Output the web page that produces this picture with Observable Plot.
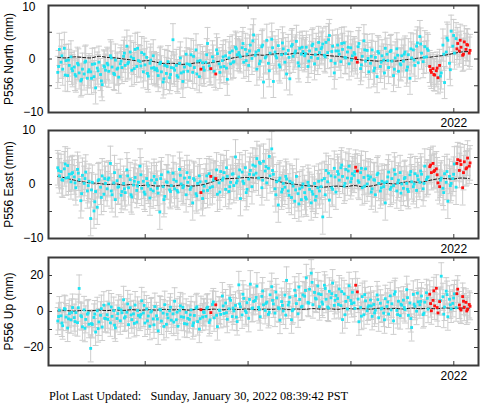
<!DOCTYPE html>
<html><head><meta charset="utf-8">
<script src="https://cdn.jsdelivr.net/npm/d3@7"></script>
<script src="https://cdn.jsdelivr.net/npm/@observablehq/plot@0.6"></script>
<style>
body{margin:0;background:#fff;width:481px;height:404px;overflow:hidden;position:relative}
#chart svg{display:block}
#cap{position:absolute;left:49px;top:389px;font:12.3px "Liberation Serif","Times New Roman",serif;white-space:pre;color:#000}
</style></head><body>
<div id="chart"></div>
<div id="cap">Plot Last Updated:   Sunday, January 30, 2022 08:39:42 PST</div>
<script>
// sampling of the series (decimal years)
const T0 = 2018.15, STEP = 0.016;          // main epochs
const T0B = 2018.158, STEPB = 0.032;       // interleaved epochs
const MODEL_STEP = 0.08;
const X_DOMAIN = [2018.06, 2022.24];
const yearTicks = [2019, 2020, 2021, 2022];
const yearLabels = [2022];

const northValues = [
-2.5,1.8,-0.6,-1.9,2.0,-0.3,-3.1,-1.2,0.4,-2.2,
-1.5,-3.2,-0.8,-2.6,-4.1,-1.9,-2.8,-0.4,-3.6,-2.0,
-2.4,-1.0,-3.3,-5.4,-1.7,-0.6,-2.9,-4.8,-1.3,-2.1,
-0.8,-2.3,0.6,-1.5,-2.7,-0.2,-1.9,-3.4,-0.9,-1.6,
0.5,-1.2,2.4,-0.6,1.3,-2.1,0.1,1.8,-1.4,-0.3,
-0.5,1.2,-2.4,-1.1,0.3,-3.2,-0.8,-1.7,0.6,-2.0,
-1.8,-3.1,-0.9,-2.4,-4.3,-1.2,-2.7,-0.5,-3.5,-1.6,
3.6,-2.1,-1.2,-3.4,-0.8,-2.6,-4.2,-1.5,0.9,-2.3,
-1.0,0.8,-2.5,-1.6,1.7,-0.4,-3.3,-1.9,-0.7,-2.1,
-0.6,2.9,-1.3,-1.8,0.4,-2.3,-2.8,1.0,-0.9,-1.5,
-0.3,-1.4,0.6,-3.8,0.2,-0.9,1.5,-0.5,2.2,0.8,
1.2,0.4,2.1,-0.6,1.8,0.9,-1.2,2.6,0.1,4.5,
0.7,-1.9,1.6,-0.4,2.3,-4.3,0.2,3.5,-0.8,1.1,
3.7,-4.2,1.3,0.2,2.5,-1.5,0.8,1.9,-0.6,-2.8,
1.6,-3.7,2.4,0.5,1.1,3.3,-0.7,2.0,0.9,1.4,
0.6,2.2,-1.4,1.5,0.3,2.8,-0.9,1.8,0.1,1.2,
1.9,2.8,0.7,3.1,1.2,4.4,-0.3,2.4,-2.6,1.5,
2.6,0.9,-0.5,1.8,3.0,0.2,1.3,-0.9,2.1,0.6,
1.2,0.2,-0.6,2.9,-1.8,0.5,3.4,-0.4,1.6,-2.4,
-0.8,1.7,-2.2,0.3,-3.3,1.1,-1.4,0.6,-0.2,2.0,
0.9,-1.6,1.4,-0.4,-3.1,0.2,1.9,-2.3,-0.9,0.6,
-0.4,1.3,-2.1,0.8,-3.6,0.2,1.7,-1.2,2.4,-0.7,
4.2,1.1,-0.5,2.3,0.4,1.6,-1.4,-2.5,-1.8,-3.0,
-2.2,-3.5,-1.2,-2.6,2.6,-4.4,1.3,3.5,-0.8,5.2,
2.4,1.1,3.8,2.9,1.5,2.2,0.7,3.2,1.8,2.6,1.1];
const northValuesB = [
-1.4,0.6,-3.0,-0.2,-1.8, -2.9,-1.1,-3.8,-0.6,-2.4, -3.6,-0.9,-2.2,-4.1,-1.5, -1.1,0.2,-2.9,-1.7,-0.4,
1.1,-0.9,0.4,-1.8,2.0, -1.3,0.9,-2.7,-0.2,-1.6, -2.2,-0.6,-3.7,-1.4,-2.9, -1.7,-3.1,0.2,-2.4,-0.9,
-1.2,0.5,-2.8,-0.3,-1.6, 0.8,-1.9,-0.4,1.7,-2.5, 0.4,-1.7,1.2,-0.6,1.9, 0.7,2.9,-0.3,1.5,3.4,
1.3,-0.9,2.6,0.4,-2.2, 2.1,0.6,-1.1,3.0,1.0, 0.3,2.7,1.5,-1.3,2.2, 1.0,-0.4,2.5,0.8,3.1,
2.2,0.4,3.6,1.4,-0.8, 1.5,2.9,0.3,2.2,-0.2, 0.9,2.3,-1.1,1.7,0.1, 0.5,-1.7,1.4,-0.6,-2.6,
-0.3,1.6,-1.9,0.7,-1.1, 0.9,-1.5,1.9,-0.2,3.0, 2.8,0.3,1.9,-2.1,-2.9, -1.7,-3.2,0.9,3.9,-2.0,
4.4,1.9,3.5,0.9,2.7,1.6];

const eastValues = [
3.1,1.6,2.4,0.8,2.9,1.2,3.5,1.9,0.5,2.2,
1.4,-0.6,2.8,0.9,-3.0,1.7,0.2,2.3,-1.2,0.6,
-6.3,0.4,-4.9,-1.3,-4.2,0.9,-0.5,1.6,-1.8,0.2,
-0.8,1.2,3.9,-1.9,0.3,-2.8,0.7,-0.4,1.5,-1.3,
0.2,-1.5,2.7,-0.6,0.9,-2.3,-0.1,1.3,-1.1,0.4,
3.4,-0.7,0.6,-1.8,1.1,-0.3,-2.5,0.8,-1.2,0.3,
0.9,-1.6,-5.1,1.8,-0.4,-2.2,0.5,2.3,-1.0,-0.2,
2.1,-0.8,0.6,-1.4,2.8,0.1,-0.6,1.2,-1.9,0.4,
1.3,-0.5,-3.4,0.8,-1.7,0.2,1.6,-1.5,-2.6,-0.3,
0.6,-1.1,2.0,1.5,-0.4,1.2,1.1,-1.8,0.3,2.4,
0.8,2.2,-0.9,1.5,-1.3,0.4,1.9,-0.2,5.1,0.7,
1.4,-2.6,2.3,0.2,3.1,-0.9,1.0,2.6,-0.4,1.8,
3.4,4.8,1.2,3.9,-0.6,4.3,2.5,0.3,3.0,1.6,
6.6,1.9,-0.8,0.5,-3.8,1.2,-1.4,0.2,-0.5,1.0,
-1.2,0.6,-2.4,-0.3,-3.1,1.5,-1.7,-0.8,-2.8,0.1,
-1.5,-2.7,0.4,-0.9,-3.4,-1.8,0.2,-2.2,-0.6,-1.2,
-0.4,-6.0,1.1,2.6,0.5,-2.9,1.6,-0.9,3.0,-1.4,
2.4,0.8,3.1,1.5,-0.3,2.8,1.2,3.4,0.5,2.0,
1.7,3.2,2.5,0.4,2.2,-0.6,1.3,2.9,0.1,1.0,
1.4,-0.8,0.9,-1.9,1.8,0.2,-1.2,0.6,-0.4,-3.4,
0.5,2.3,-0.9,1.1,-0.2,1.9,-1.2,0.8,2.2,0.1,
-0.7,1.3,0.2,-1.3,1.8,0.5,-0.4,2.0,-1.1,0.9,
0.4,1.9,-0.8,3.4,0.9,1.4,3.3,2.2,3.9,2.6,
2.9,0.3,-0.4,1.2,-0.7,2.0,0.4,-3.1,1.5,0.2,
1.1,3.8,-0.5,4.6,2.6,3.7,-0.6,4.2,2.9,4.9,3.4];
const eastValuesB = [
2.6,0.9,3.8,1.3,2.0, 0.3,2.1,-1.7,1.1,-0.2, -1.0,-3.2,0.7,-2.4,1.1, 0.9,-1.2,2.2,-0.5,-2.0,
-0.8,1.6,-1.9,0.6,-0.3, 1.8,-1.4,0.2,-0.9,1.5, -0.7,1.1,-2.8,0.4,-1.3, 0.9,-1.1,1.7,-0.3,2.2,
-0.9,1.1,-2.1,0.5,-1.2, 1.6,-0.6,0.8,2.7,-1.4, 1.2,3.1,-0.4,2.0,0.3, 2.7,0.6,-1.5,1.9,3.6,
2.1,4.1,0.8,3.3,5.2, 2.6,-1.9,0.8,-0.9,1.5, -2.0,0.3,-1.0,-3.6,-0.5, -2.4,-0.2,-1.3,-2.9,0.6,
0.8,-1.9,2.1,-0.6,1.4, 1.9,3.6,0.2,2.5,1.1, 2.4,0.7,3.0,-0.3,1.6, -1.4,0.8,2.1,-0.6,0.3,
1.4,-0.5,2.7,0.3,-1.6, 1.1,-0.9,2.4,0.1,1.6, 2.5,0.2,1.3,3.6,2.4, 1.8,0.8,-1.5,2.4,-0.2,
1.9,3.9,4.4,2.2,3.1,4.0];

const upValues = [
-5.3,0.8,-2.4,-7.9,1.6,-3.1,-9.2,-1.2,-4.6,2.2,
-3.4,-0.6,-6.2,12.8,-2.3,-8.5,0.9,-4.4,-1.5,-7.1,
-20.5,-7.2,-3.3,-11.4,0.4,-5.8,-2.1,-8.6,3.5,-4.0,
-1.8,4.2,-6.3,-2.7,0.5,-9.1,-3.9,1.8,-5.2,-0.7,
6.5,-2.9,-0.4,-7.3,2.1,-4.5,-1.3,3.6,-5.9,-2.2,
-3.1,5.9,-0.8,-6.4,1.4,-2.5,-8.2,0.3,-4.1,2.7,
-2.4,-10.8,1.2,-5.3,-0.9,3.8,-7.1,-3.6,0.4,-4.8,
-1.3,5.7,-4.6,-8.2,0.7,-2.9,2.3,-6.7,-0.5,-3.8,
-4.4,0.9,-7.8,-2.2,1.8,-5.6,-9.8,1.0,-3.1,-0.6,
-2.7,2.4,-6.1,-0.6,3.9,-3.5,3.7,-8.4,0.8,-1.6,
8.6,-1.1,4.7,-4.3,1.5,6.2,-2.8,0.3,3.4,-5.6,
14.8,2.6,-1.9,7.3,0.4,4.9,-3.8,15.2,1.7,5.6,
6.1,14.1,2.3,-2.9,8.4,3.7,0.6,5.2,-1.6,9.3,
13.8,4.2,-0.9,7.6,2.1,-4.8,5.5,0.3,9.1,17.3,
3.6,7.9,-4.6,1.2,11.8,4.4,-1.3,6.7,2.5,9.2,
8.5,18.7,5.1,12.4,21.3,3.8,10.6,6.9,14.2,2.7,
9.4,4.1,14.6,6.8,2.5,11.2,7.6,15.8,3.4,8.9,
7.2,12.5,3.3,-4.5,9.8,5.6,1.4,14.3,6.1,10.7,
4.8,14.6,10.9,-5.7,2.2,8.3,-1.8,5.9,0.4,3.2,
6.4,-2.7,3.9,0.7,9.2,-3.5,4.6,1.8,-0.9,7.1,
2.8,-1.4,8.7,4.3,-5.2,11.0,0.6,5.7,-2.3,3.5,
6.3,1.1,12.1,-2.1,4.7,-8.9,9.5,2.9,0.2,5.4,
3.8,8.6,-1.7,5.2,10.4,1.3,9.6,0.4,6.2,3.1,
12.9,-0.8,5.5,19.6,8.2,2.5,11.3,-2.9,6.8,1.4,
4.5,9.8,2.1,12.4,3.6,0.8,8.3,2.4,5.1,1.2,3.9];
const upValuesB = [
-2.8,-6.4,1.2,-4.1,-0.5, -5.6,2.1,-2.9,-9.3,-0.8, -6.7,-1.4,-9.5,1.6,-3.8, -4.4,2.5,-7.6,-1.2,0.9,
-3.6,4.2,-1.9,-6.6,0.6, -1.7,3.4,-5.2,-0.3,-7.4, -4.2,0.8,-8.3,-1.6,2.4, -5.9,-0.4,3.1,-3.2,-7.0,
-1.9,-6.3,2.6,-4.0,-0.2, 1.8,-4.7,5.3,-2.1,0.5, 3.1,-0.7,7.4,1.9,-3.1, 4.2,9.6,-0.6,6.7,2.0,
7.8,1.1,11.4,4.5,-0.4, 6.2,10.8,1.5,3.4,-2.0, 5.1,0.4,8.8,13.6,2.9, 11.7,4.6,16.2,7.4,9.8,
5.3,12.8,1.9,9.9,6.2, 3.9,11.1,-1.8,7.8,4.4, 1.7,6.9,-2.6,9.4,2.5, 3.1,-0.8,6.6,1.4,-4.6,
5.3,0.9,9.6,-1.7,4.0, 2.2,7.7,-3.9,4.1,10.2, 5.6,-0.9,7.3,4.4,11.5, 2.2,6.1,-1.5,9.4,3.7,
7.5,9.9,1.6,5.7,0.3,2.9];

// epochs flagged as outliers (drawn red)
const redIndex = [87,93,96,181,182,226,227,228,229,230,231,232,243,244,245,246,247,248,249,250];
const redIndexB = [113,114,115,121,122,123,124,125];

// model (dashed) every MODEL_STEP years
const northModel = [0.3,0.2,0.4,0.3,0.2,0.5,0.3,0.2,0.0,-0.2,-0.4,-0.3,-0.6,-0.9,-0.8,-1.0,-0.9,-0.7,-0.8,-0.6,-0.3,0.1,0.4,0.6,0.8,0.7,0.9,1.0,0.9,1.1,1.0,0.8,0.8,0.6,0.5,0.3,0.0,-0.2,-0.3,-0.4,-0.3,-0.4,-0.2,0.0,0.2,0.3,0.5,0.7,1.0,1.3,1.4];
const eastModel = [1.5,1.2,0.8,0.5,0.3,0.2,0.0,0.1,-0.1,0.0,-0.2,-0.1,-0.3,-0.2,-0.3,-0.1,-0.3,-0.2,0.1,0.6,1.0,1.1,1.2,1.3,1.2,1.3,1.0,0.5,0.2,0.0,-0.2,-0.3,-0.5,-0.4,-0.3,-0.4,-0.2,-0.4,-0.3,0.0,0.2,0.1,0.4,0.5,0.4,0.7,1.0,1.1,1.0,1.2,1.1];
const upModel = [0.3,0.5,0.2,0.6,0.4,0.8,0.5,0.9,0.6,1.0,0.7,1.0,0.8,1.2,0.9,1.1,0.8,1.2,1.0,1.3,0.9,1.3,1.1,1.4,1.0,1.3,1.2,1.5,1.1,1.4,1.2,1.6,1.3,1.5,1.2,1.7,1.4,1.6,1.3,1.8,1.5,1.7,1.4,1.9,1.6,1.8,1.5,2.0,1.7,1.9,1.8];

// 1-sigma uncertainty (mm)
const northSigma = 3.0, eastSigma = 3.2, upSigma = 7.5;

const labels = ["P556 North (mm)", "P556 East (mm)", "P556 Up (mm)"];

const GRAY = "#cdcdcd", CYAN = "#1ee3f2", RED = "#ff1010", FRAME = "#3a3a3a";
const redSet = new Set(redIndex), redSetB = new Set(redIndexB);

function panel(p) {
  const W = 481, ML = 48, MR = 3, MB = 16;
  const rows = p.values.map((v, i) => ({t: T0 + i * STEP, v, s: p.sigma, red: redSet.has(i)}))
    .concat(p.valuesB.map((v, j) => ({t: T0B + j * STEPB, v, s: p.sigma, red: redSetB.has(j)})))
    .sort((a, b) => a.t - b.t);
  const model = p.model.map((v, k) => ({t: T0 + k * MODEL_STEP, v}));
  const pxX = (W - ML - MR) / (X_DOMAIN[1] - X_DOMAIN[0]);
  const innerH = p.height - p.mt - MB;
  const pxY = innerH / (p.domain[1] - p.domain[0]);
  const cap = 3 / pxX, tx = 4 / pxX, ty = 4 / pxY;
  const [y0, y1] = p.domain;
  return Plot.plot({
    width: W, height: p.height,
    marginLeft: ML, marginRight: MR, marginTop: p.mt, marginBottom: MB,
    x: {domain: X_DOMAIN, label: null},
    y: {domain: p.domain, label: null},
    style: {fontFamily: "'Liberation Sans', Arial, sans-serif", fontSize: "12px", color: "#000", background: "#fff", overflow: "visible"},
    marks: [
      Plot.ruleX(rows, {x: "t", y1: d => d.v - d.s, y2: d => d.v + d.s, stroke: GRAY, strokeWidth: 1}),
      Plot.link(rows, {x1: d => d.t - cap, x2: d => d.t + cap, y1: d => d.v + d.s, y2: d => d.v + d.s, stroke: GRAY, strokeWidth: 1}),
      Plot.link(rows, {x1: d => d.t - cap, x2: d => d.t + cap, y1: d => d.v - d.s, y2: d => d.v - d.s, stroke: GRAY, strokeWidth: 1}),
      Plot.line(model, {x: "t", y: "v", stroke: "#111", strokeWidth: 1, strokeDasharray: "3,2", curve: "catmull-rom"}),
      Plot.dot(rows.filter(d => !d.red), {x: "t", y: "v", symbol: "square", r: 1.6, fill: CYAN}),
      Plot.dot(rows.filter(d => d.red), {x: "t", y: "v", symbol: "square", r: 1.6, fill: RED}),
      // inner tick marks
      Plot.ruleX(yearTicks, {x: d => d, y1: y0, y2: y0 + ty, stroke: FRAME}),
      Plot.ruleX(yearTicks, {x: d => d, y1: y1, y2: y1 - ty, stroke: FRAME}),
      Plot.ruleY(p.minor, {y: d => d, x1: X_DOMAIN[0], x2: X_DOMAIN[0] + tx, stroke: FRAME}),
      Plot.ruleY(p.minor, {y: d => d, x1: X_DOMAIN[1], x2: X_DOMAIN[1] - tx, stroke: FRAME}),
      Plot.frame({stroke: FRAME, strokeWidth: 2}),
      Plot.axisX({anchor: "bottom", ticks: yearLabels, tickSize: 0, tickPadding: 6, tickFormat: d => String(d), label: null}),
      ...p.tickGroups.map(g => Plot.axisY({anchor: "left", ticks: g.ticks, tickSize: 0, tickPadding: g.pad, dy: g.dy || 0, label: null})),
      Plot.text([p.label], {text: d => d, frameAnchor: "left", textAnchor: "middle", rotate: -90, dx: -39, fontSize: 12})
    ]
  });
}

const chart = document.getElementById("chart");
chart.append(panel({values: northValues, valuesB: northValuesB, model: northModel, sigma: northSigma, domain: [-10, 10], minor: [-5, 0, 5],
  tickGroups: [{ticks: [10], pad: 13, dy: 1.5}, {ticks: [0], pad: 13}, {ticks: [-10], pad: 5}], label: labels[0], height: 128, mt: 5}));
chart.append(panel({values: eastValues, valuesB: eastValuesB, model: eastModel, sigma: eastSigma, domain: [-10, 10], minor: [-5, 0, 5],
  tickGroups: [{ticks: [0, 10], pad: 13}, {ticks: [-10], pad: 5}], label: labels[1], height: 126, mt: 2}));
chart.append(panel({values: upValues, valuesB: upValuesB, model: upModel, sigma: upSigma, domain: [-30, 30], minor: [-20, -10, 0, 10, 20],
  tickGroups: [{ticks: [-20, 0, 20], pad: 5}], label: labels[2], height: 127, mt: 3}));
</script>
</body></html>
